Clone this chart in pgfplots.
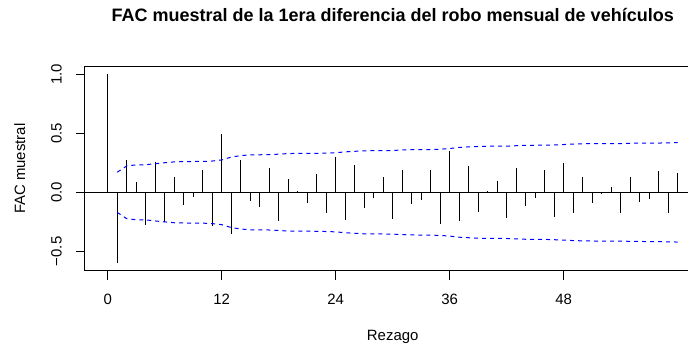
\documentclass[border=0pt]{standalone}
\usepackage{fontspec}
\setmainfont{Liberation Sans}
\usepackage{pgfplots}
\usepackage{pgfplotstable}
\pgfplotsset{compat=1.18}

\pgfplotstableread{
lag acf
0 1.000
1 -0.600
2 0.274
3 0.085
4 -0.277
5 0.257
6 -0.254
7 0.133
8 -0.107
9 -0.037
10 0.189
11 -0.288
12 0.494
13 -0.356
14 0.274
15 -0.071
16 -0.121
17 0.203
18 -0.243
19 0.113
20 0.011
21 -0.093
22 0.155
23 -0.178
24 0.299
25 -0.232
26 0.229
27 -0.130
28 -0.048
29 0.127
30 -0.226
31 0.186
32 -0.099
33 -0.062
34 0.189
35 -0.268
36 0.353
37 -0.240
38 0.223
39 -0.164
40 0.011
41 0.096
42 -0.220
43 0.206
44 -0.116
45 -0.045
46 0.189
47 -0.206
48 0.251
49 -0.172
50 0.130
51 -0.093
52 -0.014
53 0.045
54 -0.178
55 0.133
56 -0.079
57 -0.054
58 0.181
59 -0.172
60 0.164
}\acfdata

\pgfplotstableread{
lag hi lo
1 0.170 -0.170
2 0.223 -0.223
3 0.2325 -0.2325
4 0.2334 -0.2334
5 0.2427 -0.2427
6 0.2504 -0.2504
7 0.2578 -0.2578
8 0.2597 -0.2597
9 0.2610 -0.2610
10 0.2612 -0.2612
11 0.2651 -0.2651
12 0.2740 -0.2740
13 0.2986 -0.2986
14 0.3106 -0.3106
15 0.3175 -0.3175
16 0.3180 -0.3180
17 0.3193 -0.3193
18 0.3230 -0.3230
19 0.3283 -0.3283
20 0.3294 -0.3294
21 0.3294 -0.3294
22 0.3301 -0.3301
23 0.3322 -0.3322
24 0.3350 -0.3350
25 0.3426 -0.3426
26 0.3471 -0.3471
27 0.3515 -0.3515
28 0.3528 -0.3528
29 0.3530 -0.3530
30 0.3543 -0.3543
31 0.3585 -0.3585
32 0.3613 -0.3613
33 0.3620 -0.3620
34 0.3624 -0.3624
35 0.3652 -0.3652
36 0.3708 -0.3708
37 0.3804 -0.3804
38 0.3848 -0.3848
39 0.3885 -0.3885
40 0.3905 -0.3905
41 0.3905 -0.3905
42 0.3912 -0.3912
43 0.3947 -0.3947
44 0.3978 -0.3978
45 0.3988 -0.3988
46 0.3989 -0.3989
47 0.4015 -0.4015
48 0.4046 -0.4046
49 0.4090 -0.4090
50 0.4111 -0.4111
51 0.4123 -0.4123
52 0.4129 -0.4129
53 0.4129 -0.4129
54 0.4131 -0.4131
55 0.4153 -0.4153
56 0.4165 -0.4165
57 0.4169 -0.4169
58 0.4171 -0.4171
59 0.4194 -0.4194
60 0.4214 -0.4214
}\bandata

\begin{document}
\begin{tikzpicture}
\useasboundingbox (-63.675pt,-55.725pt) rectangle (452.325pt,203.025pt);
\begin{axis}[
  at={(0,0)}, anchor=south west,
  scale only axis,
  width=461.7pt, height=153pt,
  xmin=-2.4, xmax=62.4,
  ymin=-0.664, ymax=1.064,
  axis line style={black, line width=0.75pt},
  xtick={0,12,24,36,48},
  ytick={-0.5,0,0.5,1},
  yticklabels={−0.5,0.0,0.5,1.0},
  xtick pos=lower, ytick pos=left,
  tick align=outside,
  major tick length=6.75pt,
  tick style={black, line width=0.75pt},
  /pgf/number format/assume math mode=true,
  tick label style={font=\fontsize{11.2pt}{13pt}\selectfont},
  xticklabel style={anchor=base, yshift=-18.45pt},
  yticklabel style={xshift=-10.65pt, rotate=90, anchor=base},
  title={FAC muestral de la 1era diferencia del robo mensual de vehículos},
  title style={at={([yshift=27.7pt]axis description cs:0.5,1)}, anchor=base, font=\bfseries\fontsize{13.5pt}{15pt}\selectfont},
  xlabel={Rezago},
  xlabel style={at={([yshift=-52.5pt]axis description cs:0.5,0)}, anchor=base, font=\fontsize{11.2pt}{13pt}\selectfont},
  ylabel={FAC muestral},
  ylabel style={at={([xshift=-44.9pt]axis description cs:0,0.5)}, anchor=base, rotate=0, font=\fontsize{11.2pt}{13pt}\selectfont},
  clip=true,
]
\addplot[black, line width=0.75pt] coordinates {(-2.4,0) (62.4,0)};
\addplot[ycomb, black, line width=0.75pt, mark=none] table[x=lag, y=acf] {\acfdata};
\addplot[blue, line width=0.75pt, dash pattern=on 3pt off 3pt] table[x=lag, y=hi] {\bandata};
\addplot[blue, line width=0.75pt, dash pattern=on 3pt off 3pt] table[x=lag, y=lo] {\bandata};
\end{axis}
\end{tikzpicture}
\end{document}
